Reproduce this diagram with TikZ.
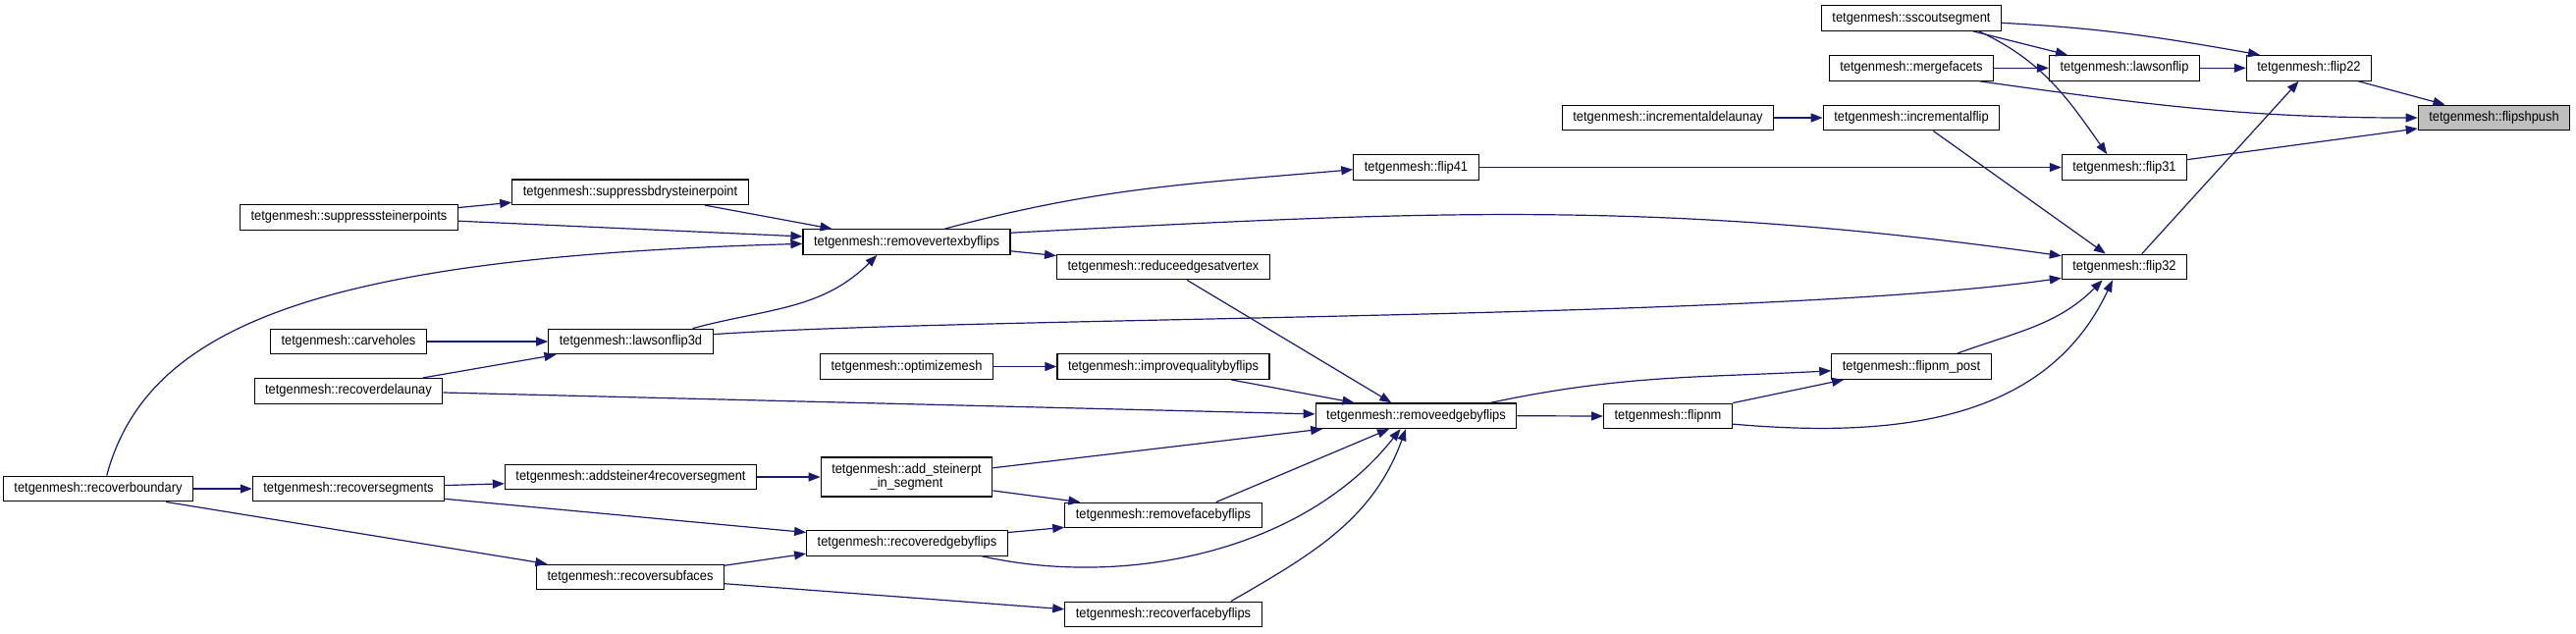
\documentclass[tikz,border=0pt]{standalone}
\usepackage{fontspec}
\usetikzlibrary{arrows.meta}
\newfontfamily\dxfont[FakeStretch=0.92]{Liberation Sans}
\definecolor{dxblue}{HTML}{191970}
\definecolor{dxgray}{HTML}{BFBFBF}

\begin{document}
\begin{tikzpicture}[x=0.5pt, y=-0.5pt,
    every node/.style={font={\dxfont\fontsize{7}{6.9}\selectfont}, align=center},
    fn/.style={draw=black, line width=0.6pt, fill=white, inner xsep=5.5pt,
               inner ysep=0pt, minimum height=12.8pt},
    call/.style={draw=dxblue, line width=0.6pt, -{Triangle[length=6pt,width=4.5pt]}}]
  \useasboundingbox (0,0) rectangle (2624,645);

  % right part
  \node[fn, fill=dxgray] (push) at (2540.5,120) {tetgenmesh::flipshpush};
  \node[fn] (f22) at (2352,69.3) {tetgenmesh::flip22};
  \node[fn] (lflip) at (2164,69.3) {tetgenmesh::lawsonflip};
  \node[fn] (f31) at (2164,170.5) {tetgenmesh::flip31};
  \node[fn] (f32) at (2164,272) {tetgenmesh::flip32};
  \node[fn] (ssc) at (1947,18.5) {tetgenmesh::sscoutsegment};
  \node[fn] (merge) at (1947,69.3) {tetgenmesh::mergefacets};
  \node[fn] (iflip) at (1947,120) {tetgenmesh::incrementalflip};
  \node[fn] (post) at (1947,373.5) {tetgenmesh::flipnm\_post};
  \node[fn] (idel) at (1699,120) {tetgenmesh::incrementaldelaunay};
  \node[fn] (fnm) at (1699,424) {tetgenmesh::flipnm};
  \node[fn] (f41) at (1442.5,170.5) {tetgenmesh::flip41};
  \node[fn] (redge) at (1442.5,423.7) {tetgenmesh::removeedgebyflips};

  % middle part
  \node[fn] (reduce) at (1185,272) {tetgenmesh::reduceedgesatvertex};
  \node[fn] (iqual) at (1185,373.5) {tetgenmesh::improvequalitybyflips};
  \node[fn] (rface) at (1185,525) {tetgenmesh::removefacebyflips};
  \node[fn] (rcface) at (1185,626) {tetgenmesh::recoverfacebyflips};
  \node[fn] (rvert) at (923.5,246.5) {tetgenmesh::removevertexbyflips};
  \node[fn] (optm) at (923.5,373.5) {tetgenmesh::optimizemesh};
  \node[fn, minimum height=20pt] (asteiner) at (923.5,486)
        {tetgenmesh::add\_steinerpt\\\_in\_segment};
  \node[fn] (rcedge) at (924,553.3) {tetgenmesh::recoveredgebyflips};

  % left part
  \node[fn] (sbdry) at (642,195.7) {tetgenmesh::suppressbdrysteinerpoint};
  \node[fn] (lf3d) at (642.5,348) {tetgenmesh::lawsonflip3d};
  \node[fn] (a4rs) at (642.5,486) {tetgenmesh::addsteiner4recoversegment};
  \node[fn] (rsub) at (642,588) {tetgenmesh::recoversubfaces};
  \node[fn] (ssteiner) at (355.5,221.3) {tetgenmesh::suppresssteinerpoints};
  \node[fn] (carve) at (355,348) {tetgenmesh::carveholes};
  \node[fn] (rdel) at (355,398.3) {tetgenmesh::recoverdelaunay};
  \node[fn] (rseg) at (355,498) {tetgenmesh::recoversegments};
  \node[fn] (rbound) at (100,498) {tetgenmesh::recoverboundary};

  % calls, right part
  \draw[call] (ssc.-3) to[out=-3,in=170] (f22.165);
  \draw[call] (ssc.-12) -- (lflip.167);
  \draw[call] (ssc.-11) to[out=-25,in=125] (f31.143);
  \draw[call] (merge.east) -- (lflip.west);
  \draw[call] (merge.-11) to[out=-8,in=180] (push.west);
  \draw[call] (lflip.east) -- (f22.west);
  \draw[call] (f22.-15) -- (push.165);
  \draw[call] (idel.east) -- (iflip.west);
  \draw[call] (iflip.-31) -- (f32.145);
  \draw[call] (f41.east) -- (f31.west);
  \draw[call] (f31.7) -- (push.-172);
  \draw[call] (f32.37) -- (f22.-128);
  \draw[call] (redge.east) -- (fnm.west);
  \draw[call] (redge.10) to[out=12,in=183] (post.183);
  \draw[call] (fnm.north east) -- (post.-169);
  \draw[call] (fnm.-7) to[out=-5,in=-115] (f32.-132);
  \draw[call] (post.16) to[out=20,in=-135] (f32.-149);

  % calls, middle part
  \draw[call] (rvert.19) to[out=15,in=185] (f41.182);
  \draw[call] (rvert.5) to[out=3,in=172] (f32.170);
  \draw[call] (rvert.-5) -- (reduce.174);
  \draw[call] (reduce.-29) -- (redge.152);
  \draw[call] (optm.east) -- (iqual.west);
  \draw[call] (iqual.-11) -- (redge.168);
  \draw[call] (asteiner.6) -- (redge.-172);
  \draw[call] (asteiner.-9) -- (rface.171);
  \draw[call] (rface.14) -- (redge.-154);
  \draw[call] (rcedge.6) -- (rface.-173);
  \draw[call] (rcedge.-10) .. controls (1150,600) and (1330,560) .. (redge.-140);
  \draw[call] (rcface.11) to[out=30,in=-110] (redge.-128);

  % calls, left part
  \draw[call] (ssteiner.5) -- (sbdry.185);
  \draw[call] (ssteiner.-2) -- (rvert.177);
  \draw[call] (sbdry.-10) -- (rvert.170);
  \draw[call] (rbound.57) .. controls (150,330) and (330,262) .. (rvert.181);
  \draw[call] (lf3d.12) to[out=15,in=-135] (rvert.-156);
  \draw[call] (lf3d.5) .. controls (1000,322) and (1800,326) .. (f32.190);
  \draw[call] (carve.east) -- (lf3d.west);
  \draw[call] (rdel.10) -- (lf3d.190);
  \draw[call] (rdel.-1) -- (redge.179);
  \draw[call] (rbound.east) -- (rseg.west);
  \draw[call] (rbound.-11) -- (rsub.171);
  \draw[call] (rseg.2) -- (a4rs.183);
  \draw[call] (rseg.-6) -- (rcedge.174);
  \draw[call] (a4rs.east) -- (asteiner.west);
  \draw[call] (rsub.7) -- (rcedge.-174);
  \draw[call] (rsub.-4) -- (rcface.177);
\end{tikzpicture}
\end{document}
